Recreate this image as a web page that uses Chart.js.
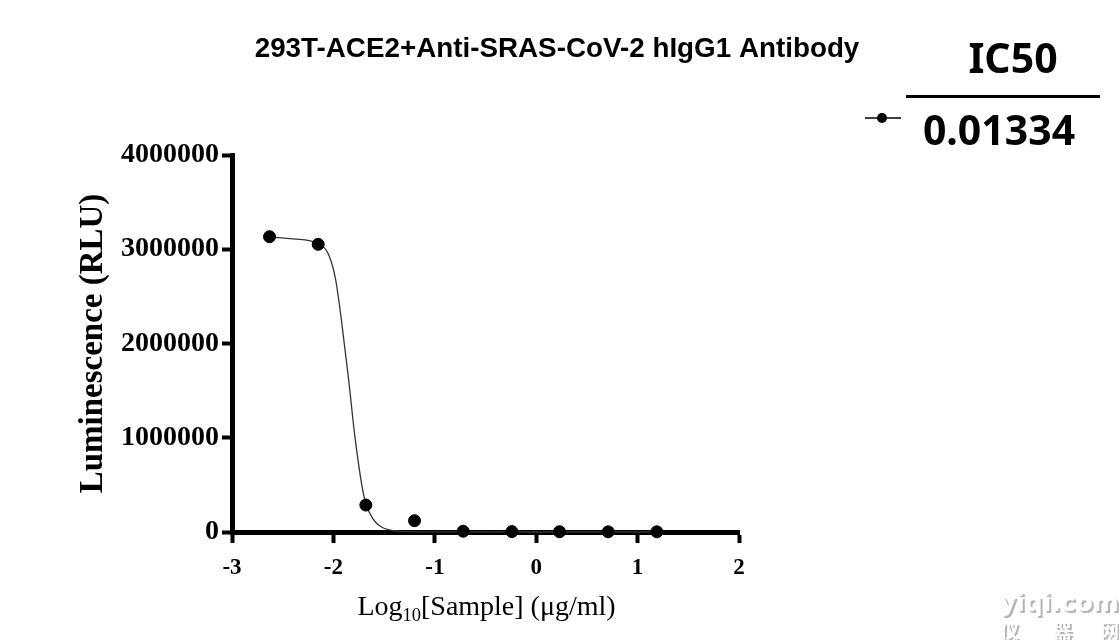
<!DOCTYPE html>
<html>
<head>
<meta charset="utf-8">
<script src="https://cdn.jsdelivr.net/npm/chart.js@4.4.0/dist/chart.umd.min.js"></script>
<style>
  body { margin: 0; background: #fff; }
  #wrap { width: 1119px; height: 640px; }
</style>
</head>
<body>
<div id="wrap"><canvas id="myChart" width="1119" height="640"></canvas></div>
<script>
// measured points: log10 concentration vs luminescence
var logDose = [-2.63, -2.15, -1.68, -1.20, -0.72, -0.24, 0.23, 0.71, 1.19];
var rlu = [3133000, 3052000, 286000, 120000, 8000, 4000, 3000, 2000, 2000];

// fitted curve
var curveX = [-2.63, -2.40, -2.15, -2.05, -1.98, -1.92, -1.85, -1.79, -1.72, -1.68, -1.61, -1.53, -1.44, -1.31, -1.10, 1.19];
var curveY = [3130000, 3110000, 3060000, 2950000, 2690000, 2240000, 1620000, 1030000, 500000, 300000, 140000, 55000, 20000, 6000, 1000, 0];

var chartTitle = "293T-ACE2+Anti-SRAS-CoV-2 hIgG1 Antibody";
var yTitle = "Luminescence (RLU)";
var ic50Label = "IC50";
var ic50Value = "0.01334";

var pointData = logDose.map(function(x, i) { return { x: x, y: rlu[i] }; });
var curveData = curveX.map(function(x, i) { return { x: x, y: curveY[i] }; });

var serif = "'Liberation Serif', 'Times New Roman', serif";

var extras = {
  id: "extras",
  afterDraw: function(chart) {
    var ctx = chart.ctx;
    var area = chart.chartArea;
    ctx.save();
    ctx.fillStyle = "#000";
    ctx.textBaseline = "alphabetic";

    // chart title, centred on the page
    ctx.textAlign = "center";
    ctx.font = "bold 27.8px 'Liberation Sans', Arial, sans-serif";
    ctx.fillText(chartTitle, 557, 57);

    // x axis title with subscript
    var big = "28px " + serif;
    var small = "18.5px " + serif;
    ctx.font = big;
    var w1 = ctx.measureText("Log").width;
    var w3 = ctx.measureText("[Sample] (\u03bcg/ml)").width;
    ctx.font = small;
    var w2 = ctx.measureText("10").width;
    var cx = (area.left + area.right) / 2 + 1;
    var sx = cx - (w1 + w2 + w3) / 2;
    var base = 615;
    ctx.textAlign = "left";
    ctx.font = big;
    ctx.fillText("Log", sx, base);
    ctx.font = small;
    ctx.fillText("10", sx + w1, base + 6);
    ctx.font = big;
    ctx.fillText("[Sample] (\u03bcg/ml)", sx + w1 + w2, base);

    // IC50 legend
    ctx.textAlign = "center";
    ctx.font = "bold 41px 'Noto Sans', sans-serif";
    ctx.fillText(ic50Label, 1013, 73);
    ctx.fillText(ic50Value, 999, 145);
    ctx.strokeStyle = "#000";
    ctx.lineWidth = 3;
    ctx.beginPath();
    ctx.moveTo(906, 96.5);
    ctx.lineTo(1100, 96.5);
    ctx.stroke();
    ctx.lineWidth = 1.5;
    ctx.beginPath();
    ctx.moveTo(865, 118);
    ctx.lineTo(901, 118);
    ctx.stroke();
    ctx.beginPath();
    ctx.arc(882, 118, 5, 0, Math.PI * 2);
    ctx.fill();

    // watermark
    ctx.textAlign = "left";
    ctx.font = "bold 25px 'DejaVu Sans', sans-serif";
    ctx.fillStyle = "#b4b4b4";
    ctx.fillText("yiqi.com", 1002, 613);
    ctx.fillStyle = "#ffffff";
    ctx.fillText("yiqi.com", 1000, 611);
    ctx.font = "bold 19px 'Noto Sans CJK SC', sans-serif";
    var zh = ["\u4eea", "\u5668", "\u7f51"];
    var zx = [1000, 1053, 1100];
    for (var i = 0; i < zh.length; i++) {
      ctx.fillStyle = "#b4b4b4";
      ctx.fillText(zh[i], zx[i] + 2, 640);
      ctx.fillStyle = "#ffffff";
      ctx.fillText(zh[i], zx[i], 638);
    }
    ctx.restore();
  }
};

new Chart("myChart", {
  type: "scatter",
  data: {
    datasets: [{
      label: "points",
      data: pointData,
      backgroundColor: "#000",
      borderColor: "#000",
      pointRadius: 6,
      pointHoverRadius: 6,
      showLine: false,
      clip: false
    }, {
      label: "fit",
      data: curveData,
      showLine: true,
      borderColor: "#333",
      borderWidth: 1.3,
      pointRadius: 0,
      cubicInterpolationMode: "monotone",
      fill: false,
      clip: false
    }]
  },
  options: {
    responsive: false,
    animation: false,
    devicePixelRatio: 1,
    layout: { padding: { left: 0, right: 380, top: 155, bottom: 0 } },
    plugins: {
      legend: { display: false },
      tooltip: { enabled: false },
      title: { display: false }
    },
    scales: {
      x: {
        type: "linear",
        min: -3,
        max: 2,
        afterFit: function(scale) { scale.height = 108; },
        ticks: {
          stepSize: 1,
          color: "#000",
          padding: 11,
          font: { family: serif, size: 23, weight: "bold" },
          callback: function(v) { return String(v); }
        },
        grid: { drawOnChartArea: false, drawTicks: true, tickLength: 11, tickWidth: 4, tickColor: "#000" },
        border: { display: true, width: 5, color: "#000" }
      },
      y: {
        type: "linear",
        min: 0,
        max: 4000000,
        afterFit: function(scale) { scale.width = 232; },
        ticks: {
          stepSize: 1000000,
          color: "#000",
          padding: 3,
          font: { family: serif, size: 28, weight: "bold" },
          callback: function(v) { return String(v); }
        },
        title: {
          display: true,
          text: yTitle,
          color: "#000",
          font: { family: serif, size: 33, weight: "bold" },
          padding: { top: 74, bottom: 0 }
        },
        grid: { drawOnChartArea: false, drawTicks: true, tickLength: 10, tickWidth: 4, tickColor: "#000" },
        border: { display: true, width: 5, color: "#000" }
      }
    }
  },
  plugins: [extras]
});
</script>
</body>
</html>
